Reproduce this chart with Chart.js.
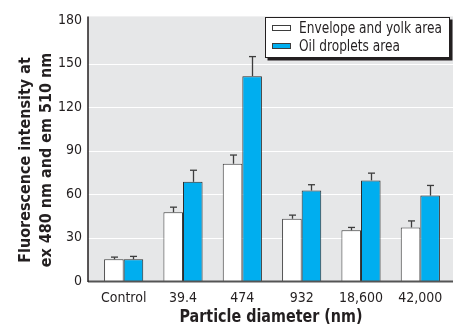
<!DOCTYPE html>
<html><head><meta charset="utf-8">
<script src="https://cdn.jsdelivr.net/npm/chart.js@4/dist/chart.umd.min.js"></script>
<style>html,body{margin:0;padding:0;background:#fff;}canvas{display:block;}</style>
</head><body>
<canvas id="c" width="454" height="330"></canvas>
<script>
const categories = ["Control", "39.4", "474", "932", "18,600", "42,000"];
const seriesNames = ["Envelope and yolk area", "Oil droplets area"];
const envelopeValues = [15, 47.5, 81, 43, 35, 37];
const envelopeErrors = [1.5, 3.5, 6, 2.5, 2, 4.5];
const oilValues = [15, 68.5, 141.5, 62.5, 69.5, 59];
const oilErrors = [2, 8, 13.5, 4, 5, 7];
const yTicks = [0, 30, 60, 90, 120, 150, 180];
const yTitle = ["Fluorescence intensity at", "ex 480 nm and em 510 nm"];
const xTitle = "Particle diameter (nm)";

const FONT = "'Liberation Sans Narrow', 'DejaVu Sans Condensed', 'Arial Narrow', sans-serif";
const TXT = '#231f20';
const errorsByDataset = [envelopeErrors, oilErrors];

function squeezedText(ctx, text, x, y, f) {
  ctx.save();
  ctx.translate(x, y);
  ctx.scale(f, 1);
  ctx.fillText(text, 0, 0);
  ctx.restore();
}

const decor = {
  id: 'decor',
  beforeDatasetsDraw(chart) {
    const ctx = chart.ctx, a = chart.chartArea, y = chart.scales.y;
    ctx.save();
    ctx.fillStyle = '#e6e7e8';
    ctx.fillRect(a.left - 6, a.top - 4, a.right + 3 - (a.left - 6), a.bottom - (a.top - 4));
    ctx.strokeStyle = '#ffffff';
    ctx.lineWidth = 1.2;
    yTicks.forEach(v => {
      if (v === 0 || v === 180) return;
      const py = Math.round(y.getPixelForValue(v)) + 0.5;
      ctx.beginPath(); ctx.moveTo(a.left - 6, py); ctx.lineTo(a.right + 3, py); ctx.stroke();
    });
    ctx.restore();
  },
  afterDatasetsDraw(chart) {
    const ctx = chart.ctx, a = chart.chartArea, y = chart.scales.y;
    ctx.save();
    // error bars
    ctx.strokeStyle = '#3d3d3d';
    ctx.lineWidth = 1.3;
    chart.data.datasets.forEach((ds, di) => {
      const meta = chart.getDatasetMeta(di);
      meta.data.forEach((bar, i) => {
        const top = y.getPixelForValue(ds.data[i]);
        const et = y.getPixelForValue(ds.data[i] + errorsByDataset[di][i]);
        const x = Math.round(bar.x) + 0.5;
        ctx.beginPath(); ctx.moveTo(x, top); ctx.lineTo(x, et); ctx.stroke();
        ctx.beginPath(); ctx.moveTo(x - 3.5, et); ctx.lineTo(x + 3.5, et); ctx.stroke();
      });
    });
    // axes
    ctx.strokeStyle = '#555555';
    ctx.lineWidth = 2;
    ctx.beginPath(); ctx.moveTo(a.left - 6, a.bottom + 0.5); ctx.lineTo(a.right + 3, a.bottom + 0.5); ctx.stroke();
    ctx.strokeStyle = '#231f20';
    ctx.lineWidth = 1.5;
    ctx.beginPath(); ctx.moveTo(a.left - 6, a.top - 4); ctx.lineTo(a.left - 6, a.bottom + 1); ctx.stroke();
    // legend
    const lx = 265, ly = 17, lw = 185, lh = 41;
    ctx.fillStyle = '#231f20';
    ctx.fillRect(lx + 2.5, ly + 2.5, lw, lh);
    ctx.fillStyle = '#ffffff';
    ctx.fillRect(lx, ly, lw, lh);
    ctx.strokeStyle = '#231f20'; ctx.lineWidth = 1;
    ctx.strokeRect(lx + 0.5, ly + 0.5, lw - 1, lh - 1);
    ctx.font = "15px " + FONT;
    ctx.textBaseline = 'middle'; ctx.textAlign = 'left';
    const lf = Math.min(1, 143 / ctx.measureText(seriesNames[0]).width);
    chart.data.datasets.forEach((ds, di) => {
      const cy = ly + 11 + di * 18;
      ctx.fillStyle = ds.backgroundColor;
      ctx.fillRect(lx + 7, cy - 3, 19, 6);
      ctx.strokeStyle = '#3d3d3d';
      ctx.strokeRect(lx + 7.5, cy - 2.5, 18, 5);
      ctx.fillStyle = TXT;
      squeezedText(ctx, ds.label, lx + 34, cy + 1, lf);
    });
    // titles
    ctx.fillStyle = TXT;
    ctx.textAlign = 'center';
    ctx.font = "bold 17px " + FONT;
    const xf = Math.min(1, 183 / ctx.measureText(xTitle).width);
    squeezedText(ctx, xTitle, 271, 318, xf);
    ctx.save();
    ctx.translate(0, 160);
    ctx.rotate(-Math.PI / 2);
    ctx.font = "bold 16px " + FONT;
    ctx.fillText(yTitle[0], 0, 26);
    ctx.fillText(yTitle[1], 0, 47);
    ctx.restore();
    ctx.restore();
  }
};

new Chart(document.getElementById('c'), {
  type: 'bar',
  data: {
    labels: categories,
    datasets: [
      { label: seriesNames[0], data: envelopeValues, backgroundColor: '#ffffff', borderColor: '#3d3d3d', borderWidth: 1,
        categoryPercentage: 0.66, barPercentage: 1 },
      { label: seriesNames[1], data: oilValues, backgroundColor: '#00aeef', borderColor: '#2d2d2d', borderWidth: 1,
        categoryPercentage: 0.66, barPercentage: 1 }
    ]
  },
  options: {
    responsive: false,
    animation: false,
    devicePixelRatio: 1,
    layout: { padding: { top: 17, right: 4, left: 0, bottom: 0 } },
    plugins: { legend: { display: false }, tooltip: { enabled: false } },
    scales: {
      x: {
        grid: { display: false, drawTicks: false },
        border: { display: false },
        ticks: { color: TXT, font: { family: FONT, size: 14 }, padding: 9 },
        afterFit(s) { s.height = 49; }
      },
      y: {
        min: 0, max: 180,
        afterBuildTicks(s) { s.ticks = yTicks.map(v => ({ value: v })); },
        grid: { display: false, drawTicks: false },
        border: { display: false },
        ticks: { color: TXT, font: { family: FONT, size: 14 }, padding: 12 },
        afterFit(s) { s.width = 94; }
      }
    }
  },
  plugins: [decor]
});
</script>
</body></html>
